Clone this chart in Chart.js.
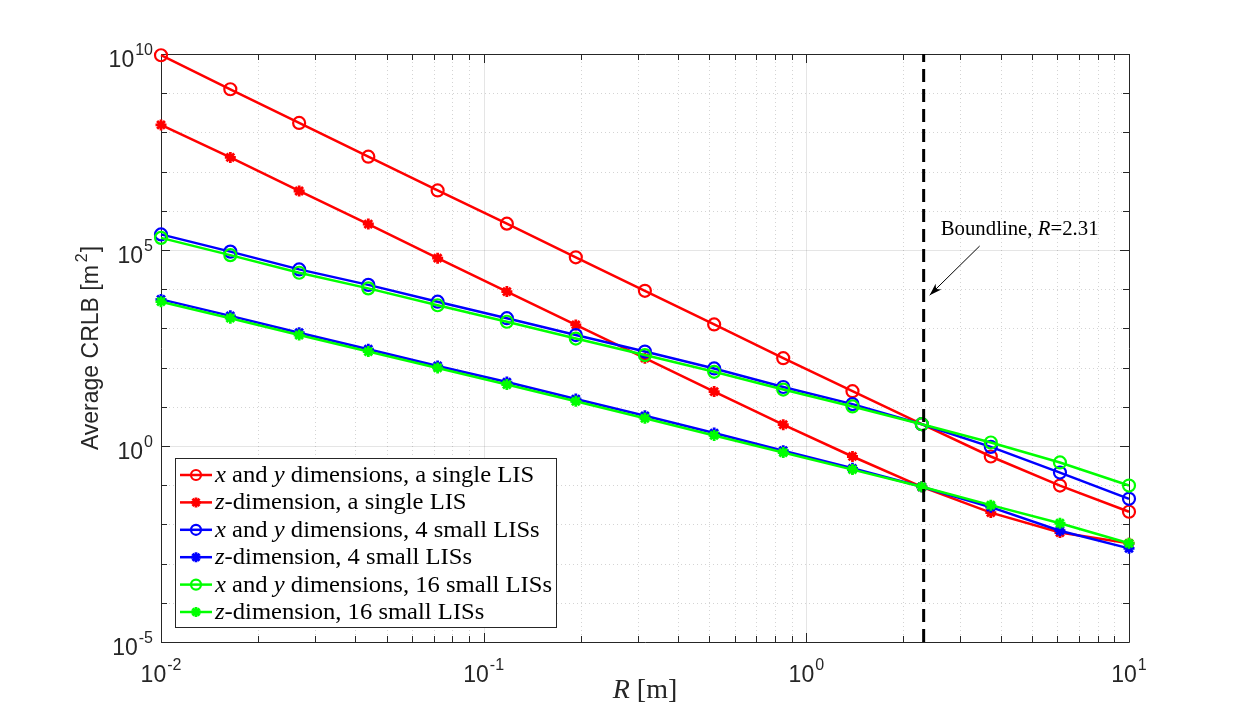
<!DOCTYPE html>
<html>
<head>
<meta charset="utf-8">
<script src="https://cdn.jsdelivr.net/npm/chart.js@4.4.1/dist/chart.umd.min.js"></script>
<style>
  html, body { margin: 0; padding: 0; background: #fff; }
  canvas { display: block; }
</style>
</head>
<body>
<canvas id="c" width="1246" height="721"></canvas>
<script>
// R [m] sample points
const radii = [0.01, 0.0164, 0.0268, 0.0439, 0.072, 0.118, 0.193, 0.316, 0.518, 0.848, 1.39, 2.28, 3.73, 6.11, 10];

// Average CRLB [m^2] per curve
const xySingle = [9.3e9, 1.26e9, 1.74e8, 2.4e7, 3.3e6, 4.7e5, 6.5e4, 9.1e3, 1.26e3, 174, 25, 3.6, 0.54, 0.098, 0.021];
const zSingle = [1.55e8, 2.3e7, 3.2e6, 4.6e5, 6.2e4, 8.7e3, 1.23e3, 174, 24.5, 3.5, 0.54, 0.091, 0.02, 0.0062, 0.0033];
const xyFour = [2.5e5, 9.1e4, 3.2e4, 1.29e4, 4.8e3, 1.82e3, 676, 257, 95, 32, 11.7, 3.6, 0.95, 0.21, 0.045];
const zFour = [5.5e3, 2.09e3, 776, 295, 110, 42.7, 15.8, 5.9, 2.14, 0.76, 0.27, 0.091, 0.0275, 0.0069, 0.00245];
const xySixteen = [2.04e5, 7.4e4, 2.63e4, 1.05e4, 3.9e3, 1.48e3, 550, 209, 78, 27.5, 10.2, 3.6, 1.23, 0.38, 0.098];
const zSixteen = [4.8e3, 1.82e3, 676, 257, 98, 37, 13.8, 5.1, 1.86, 0.68, 0.25, 0.091, 0.031, 0.0107, 0.0033];

const boundR = 2.31;

// axis ticks
const xMajorTicks = [0.01, 0.1, 1, 10];
const xTickExps = ['-2', '-1', '0', '1'];
const yMajorTicks = [1e-5, 1, 1e5, 1e10];
const yTickExps = ['-5', '0', '5', '10'];
const xMinorTicks = [];
for (const d of [0.01, 0.1, 1]) for (let k = 2; k <= 9; k++) xMinorTicks.push(d * k);
const yMinorTicks = [];
for (let e = -4; e <= 9; e++) if (e % 5 !== 0) yMinorTicks.push(Math.pow(10, e));

// legend text, [text, italic]
const legendLabels = [
  [['x', 1], [' and ', 0], ['y', 1], [' dimensions, a single LIS', 0]],
  [['z', 1], ['-dimension, a single LIS', 0]],
  [['x', 1], [' and ', 0], ['y', 1], [' dimensions, 4 small LISs', 0]],
  [['z', 1], ['-dimension, 4 small LISs', 0]],
  [['x', 1], [' and ', 0], ['y', 1], [' dimensions, 16 small LISs', 0]],
  [['z', 1], ['-dimension, 16 small LISs', 0]]
];

const RED = '#ff0000', BLUE = '#0000ff', GREEN = '#00ff00';
const SERIF = '"Liberation Serif", "DejaVu Serif", serif';
const SANS = '"Liberation Sans", Arial, sans-serif';

function series(vals, color, style, idx) {
  return {
    data: radii.map((r, i) => ({ x: r, y: vals[i] })),
    borderColor: color,
    backgroundColor: color,
    borderWidth: 2.5,
    pointStyle: style === 'circle' ? 'circle' : 'star',
    pointRadius: style === 'circle' ? 6 : 5.5,
    pointBorderWidth: style === 'circle' ? 2.2 : 2.8,
    pointBorderColor: color,
    pointBackgroundColor: 'rgba(0,0,0,0)',
    tension: 0,
    clip: false,
    order: 10 - idx
  };
}

const datasets = [
  series(xySingle, RED, 'circle', 0),
  series(zSingle, RED, 'star', 1),
  series(xyFour, BLUE, 'circle', 2),
  series(zFour, BLUE, 'star', 3),
  series(xySixteen, GREEN, 'circle', 4),
  series(zSixteen, GREEN, 'star', 5),
  {
    data: [{ x: boundR, y: 1e-5 }, { x: boundR, y: 1e10 }],
    borderColor: '#000',
    borderWidth: 3,
    borderDash: [13, 7],
    pointRadius: 0,
    clip: false,
    order: 0
  }
];

// serif text with italic runs, stretched a bit to mimic LaTeX widths
function drawRuns(ctx, runs, x, y, size, stretch) {
  ctx.save();
  ctx.translate(x, y);
  ctx.scale(stretch, 1);
  let cx = 0;
  for (const [t, it] of runs) {
    ctx.font = (it ? 'italic ' : '') + size + 'px ' + SERIF;
    ctx.fillText(t, cx, 0);
    cx += ctx.measureText(t).width;
  }
  ctx.restore();
  return cx * stretch;
}

function runsWidth(ctx, runs, size, stretch) {
  let w = 0;
  for (const [t, it] of runs) {
    ctx.font = (it ? 'italic ' : '') + size + 'px ' + SERIF;
    w += ctx.measureText(t).width;
  }
  return w * stretch;
}

function drawPow(ctx, exp, x, y, align) {
  ctx.font = '23px ' + SANS;
  const wb = ctx.measureText('10').width + 1;
  ctx.font = '16px ' + SANS;
  const we = ctx.measureText(exp).width;
  const x0 = align === 'center' ? x - (wb + we) / 2 : x - wb - we;
  ctx.font = '23px ' + SANS;
  ctx.fillText('10', x0, y);
  ctx.font = '16px ' + SANS;
  ctx.fillText(exp, x0 + wb, y - 12);
}

const axesPlugin = {
  id: 'matlabAxes',
  beforeDatasetsDraw(chart) {
    const { ctx, chartArea: a, scales: { x, y } } = chart;
    ctx.save();
    ctx.lineWidth = 1;
    // minor grid
    ctx.strokeStyle = 'rgba(38,38,38,0.2)';
    ctx.setLineDash([1, 3]);
    ctx.beginPath();
    for (const v of xMinorTicks) { const px = Math.round(x.getPixelForValue(v)) + 0.5; ctx.moveTo(px, a.top); ctx.lineTo(px, a.bottom); }
    for (const v of yMinorTicks) { const py = Math.round(y.getPixelForValue(v)) + 0.5; ctx.moveTo(a.left, py); ctx.lineTo(a.right, py); }
    ctx.stroke();
    // major grid
    ctx.setLineDash([]);
    ctx.strokeStyle = 'rgba(38,38,38,0.12)';
    ctx.beginPath();
    for (const v of xMajorTicks) { const px = Math.round(x.getPixelForValue(v)) + 0.5; ctx.moveTo(px, a.top); ctx.lineTo(px, a.bottom); }
    for (const v of yMajorTicks) { const py = Math.round(y.getPixelForValue(v)) + 0.5; ctx.moveTo(a.left, py); ctx.lineTo(a.right, py); }
    ctx.stroke();
    // box and inward ticks
    ctx.strokeStyle = '#262626';
    ctx.beginPath();
    ctx.rect(Math.round(a.left) + 0.5, Math.round(a.top) + 0.5, Math.round(a.right - a.left), Math.round(a.bottom - a.top));
    const xtick = (vals, len) => {
      for (const v of vals) {
        const px = Math.round(x.getPixelForValue(v)) + 0.5;
        ctx.moveTo(px, a.bottom); ctx.lineTo(px, a.bottom - len);
        ctx.moveTo(px, a.top); ctx.lineTo(px, a.top + len);
      }
    };
    const ytick = (vals, len) => {
      for (const v of vals) {
        const py = Math.round(y.getPixelForValue(v)) + 0.5;
        ctx.moveTo(a.left, py); ctx.lineTo(a.left + len, py);
        ctx.moveTo(a.right, py); ctx.lineTo(a.right - len, py);
      }
    };
    xtick(xMajorTicks, 9); xtick(xMinorTicks, 6);
    ytick(yMajorTicks, 9); ytick(yMinorTicks, 6);
    ctx.stroke();
    ctx.restore();
  },
  afterDatasetsDraw(chart) {
    const { ctx, chartArea: a, scales: { x, y } } = chart;
    ctx.save();
    ctx.fillStyle = '#262626';
    ctx.textBaseline = 'alphabetic';
    xMajorTicks.forEach((v, i) => drawPow(ctx, xTickExps[i], x.getPixelForValue(v), a.bottom + 40, 'center'));
    yMajorTicks.forEach((v, i) => drawPow(ctx, yTickExps[i], a.left - 8, y.getPixelForValue(v) + 13, 'right'));

    // y axis title
    ctx.save();
    ctx.translate(98, (a.top + a.bottom) / 2);
    ctx.rotate(-Math.PI / 2);
    const t1 = 'Average CRLB [m', t2 = '2', t3 = ']';
    ctx.font = '23px ' + SANS;
    const w1 = ctx.measureText(t1).width;
    const w3 = ctx.measureText(t3).width;
    ctx.font = '16px ' + SANS;
    const w2 = ctx.measureText(t2).width + 4;
    const sx = -(w1 + w2 + w3) / 2;
    ctx.font = '23px ' + SANS;
    ctx.fillText(t1, sx, 0);
    ctx.fillText(t3, sx + w1 + w2, 0);
    ctx.font = '16px ' + SANS;
    ctx.fillText(t2, sx + w1 + 3, -11);
    ctx.restore();

    // x axis title
    const xl = [['R', 1], [' [m]', 0]];
    const wx = runsWidth(ctx, xl, 28, 1);
    drawRuns(ctx, xl, (a.left + a.right) / 2 - wx / 2, a.bottom + 56, 28, 1);

    // annotation
    ctx.fillStyle = '#000';
    const bx = x.getPixelForValue(boundR);
    drawRuns(ctx, [['Boundline, ', 0], ['R', 1], ['=2.31', 0]], bx + 17, y.getPixelForValue(1e5) - 15, 20, 1.04);
    const ax0 = bx + 56, ay0 = y.getPixelForValue(1e5) - 4;
    const ax1 = bx + 6, ay1 = y.getPixelForValue(1e4) + 6;
    ctx.strokeStyle = '#000';
    ctx.lineWidth = 1;
    ctx.beginPath(); ctx.moveTo(ax0, ay0); ctx.lineTo(ax1, ay1); ctx.stroke();
    const ang = Math.atan2(ay1 - ay0, ax1 - ax0);
    ctx.beginPath();
    ctx.moveTo(ax1, ay1);
    ctx.lineTo(ax1 - 13 * Math.cos(ang - 0.32), ay1 - 13 * Math.sin(ang - 0.32));
    ctx.lineTo(ax1 - 9 * Math.cos(ang), ay1 - 9 * Math.sin(ang));
    ctx.lineTo(ax1 - 13 * Math.cos(ang + 0.32), ay1 - 13 * Math.sin(ang + 0.32));
    ctx.closePath(); ctx.fill();

    // legend
    const lx = a.left + 14, ly = 458, lw = 381, lh = 169;
    ctx.fillStyle = '#fff';
    ctx.fillRect(lx, ly, lw, lh);
    ctx.strokeStyle = '#262626';
    ctx.lineWidth = 1;
    ctx.strokeRect(lx + 0.5, ly + 0.5, lw, lh);
    legendLabels.forEach((runs, i) => {
      const ds = datasets[i];
      const ry = ly + 17 + i * 27.4;
      ctx.strokeStyle = ds.borderColor;
      ctx.lineWidth = 2.5;
      ctx.beginPath(); ctx.moveTo(lx + 5, ry); ctx.lineTo(lx + 37, ry); ctx.stroke();
      const mx = lx + 21;
      ctx.lineWidth = ds.pointBorderWidth;
      ctx.beginPath();
      if (ds.pointStyle === 'circle') {
        ctx.arc(mx, ry, 5, 0, Math.PI * 2);
      } else {
        const r = 5;
        for (let k = 0; k < 4; k++) {
          const t = k * Math.PI / 4;
          ctx.moveTo(mx - r * Math.cos(t), ry - r * Math.sin(t));
          ctx.lineTo(mx + r * Math.cos(t), ry + r * Math.sin(t));
        }
      }
      ctx.stroke();
      ctx.fillStyle = '#000';
      drawRuns(ctx, runs, lx + 40, ry + 7, 23, 1.07);
    });
    ctx.restore();
  }
};

new Chart(document.getElementById('c'), {
  type: 'line',
  data: { datasets },
  options: {
    responsive: false,
    animation: false,
    devicePixelRatio: 1,
    layout: { padding: { left: 161, right: 117, top: 54, bottom: 79 } },
    scales: {
      x: { type: 'logarithmic', min: 0.01, max: 10, display: false },
      y: { type: 'logarithmic', min: 1e-5, max: 1e10, display: false }
    },
    plugins: { legend: { display: false }, tooltip: { enabled: false } }
  },
  plugins: [axesPlugin]
});
</script>
</body>
</html>
